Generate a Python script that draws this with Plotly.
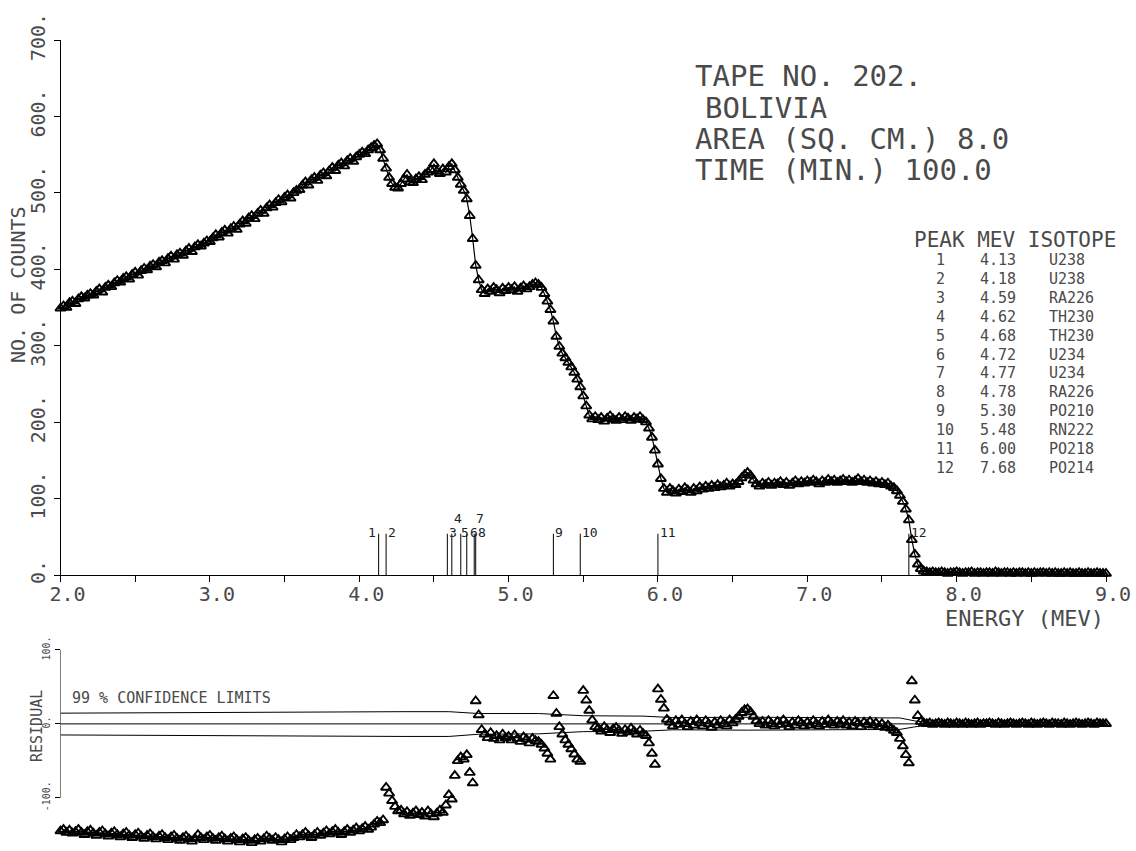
import plotly.graph_objects as go

# Alpha spectrum: counts per channel, channel calibration 2.00 MeV + 0.02 MeV/channel
E_START = 2.0
E_STEP = 0.02

COUNTS = [
    349, 352, 350, 356, 358, 355, 361, 364, 362, 366,
    368, 366, 371, 374, 370, 376, 379, 377, 382, 385,
    383, 388, 390, 387, 393, 396, 392, 398, 401, 399,
    404, 406, 403, 409, 411, 408, 414, 417, 413, 419,
    421, 418, 424, 427, 423, 429, 432, 430, 434, 437,
    436, 441, 445, 442, 448, 451, 447, 453, 456, 452,
    459, 463, 460, 467, 470, 466, 473, 477, 473, 480,
    484, 481, 487, 491, 488, 494, 497, 493, 500, 503,
    504, 510, 514, 510, 517, 520, 516, 523, 526, 522,
    529, 533, 529, 536, 539, 535, 542, 545, 541, 547,
    550, 553, 551, 556, 559, 562, 564, 556, 545, 532,
    520, 512, 507, 506, 512, 518, 524, 514, 513, 518,
    521, 517, 524, 527, 530, 538, 528, 525, 531, 527,
    534, 538, 530, 520, 511, 503, 492, 470, 440, 405,
    386, 373, 368, 374, 371, 376, 373, 369, 375, 372,
    376, 373, 377, 371, 375, 378, 374, 377, 380, 382,
    380, 376, 368, 358, 347, 332, 312, 299, 290, 284,
    278, 272, 265, 256, 246, 234, 221, 209, 204, 207,
    203, 206, 201, 205, 208, 204, 202, 206, 203, 207,
    205, 202, 206, 204, 207, 203, 200, 192, 180, 163,
    145, 126, 113, 108, 113, 110, 107, 112, 109, 114,
    111, 108, 113, 110, 115, 112, 116, 113, 117, 114,
    118, 115, 117, 120, 116, 119, 118, 122, 127, 131,
    134, 130, 124, 119, 116, 120, 118, 121, 117, 120,
    119, 122, 118, 121, 117, 120, 123, 119, 122, 120,
    123, 121, 124, 122, 119, 123, 121, 125, 122, 124,
    121, 123, 125, 122, 124, 121, 123, 126, 122, 124,
    121, 123, 120, 122, 119, 121, 118, 120, 116, 114,
    110, 104, 96, 86, 72, 46, 27, 14, 8, 5,
    4, 3, 4, 3, 3, 4, 3, 2, 3, 3,
    4, 3, 2, 3, 3, 4, 2, 3, 3, 2,
    3, 3, 2, 4, 3, 2, 3, 3, 2, 3,
    2, 3, 3, 2, 3, 2, 3, 2, 3, 3,
    2, 3, 2, 3, 2, 2, 3, 2, 3, 2,
    2, 3, 2, 2, 3, 2, 2, 3, 2, 2,
    2,
]

# Fit residuals for the same channels
RESIDUALS = [
    -145, -143, -147, -144, -148, -146, -143, -147, -150, -146,
    -144, -148, -151, -147, -145, -149, -152, -148, -146, -150,
    -153, -149, -147, -151, -154, -150, -148, -152, -155, -151,
    -149, -153, -156, -152, -150, -154, -157, -153, -151, -155,
    -158, -154, -152, -156, -159, -155, -150, -154, -157, -153,
    -151, -155, -158, -154, -152, -156, -159, -155, -153, -157,
    -160, -156, -154, -158, -161, -157, -155, -159, -156, -152,
    -155, -158, -154, -157, -160, -156, -153, -157, -154, -150,
    -153, -150, -147, -151, -154, -150, -147, -151, -148, -145,
    -149, -146, -143, -147, -150, -146, -143, -147, -144, -141,
    -145, -142, -139, -143, -140, -136, -132, -134, -130, -86,
    -94, -104, -112, -118, -117, -122, -119, -124, -121, -118,
    -123, -120, -125, -118, -122, -126, -121, -117, -120, -110,
    -96, -102, -70, -50, -45, -48, -42, -66, -80, 31,
    12, -8, -14, -19, -12, -20, -16, -22, -14, -19,
    -17, -22, -15, -20, -24, -18, -21, -26, -20, -23,
    -24, -28, -33, -40, -48, 38, 14, -4, -14, -22,
    -28, -34, -41, -48, -51, 45, 32, 18, 5, -4,
    -6, -10, -4, -8, -12, -7, -5, -9, -13, -8,
    -11, -6, -10, -14, -9, -13, -16, -26, -40, -55,
    47, 33, 21, 6, 2, -3, 4, -1, 5, 0,
    -4, 3, -2, 5, 1, -3, 4, 0, -5, 2,
    -2, 4, 0, -3, 5, 1, 6, 10, 15, 19,
    20, 16, 10, 4, 0, 3, -2, 4, 0, -3,
    3, -1, 5, 0, -4, 2, -2, 4, 1, -3,
    2, -2, 4, 0, -3, 3, -1, 5, 1, -2,
    3, 0, 4, -2, 2, -3, 3, 1, -4, 2,
    -1, 3, -2, 1, -4, 0, -5, -2, -6, -9,
    -12, -20, -30, -42, -53, 58, 32, 11, 3, 1,
    0, 1, -1, 0, 1, 0, -1, 1, 0, -1,
    1, 0, -1, 1, 0, -1, 0, 1, -1, 0,
    0, 1, 0, -1, 1, 0, -1, 0, 1, 0,
    -1, 0, 1, 0, -1, 1, 0, -1, 0, 1,
    0, -1, 1, 0, 0, -1, 1, 0, -1, 0,
    1, 0, -1, 0, 1, 0, -1, 1, 0, 0,
    0,
]

ENERGY = [round(E_START + E_STEP * i, 2) for i in range(len(COUNTS))]

# 99 % confidence limits on the residual
CL_ENERGY = [2.0, 2.5, 3.0, 3.5, 4.0, 4.15, 4.3, 4.6, 4.8, 5.2, 5.3, 5.5,
             5.9, 6.0, 6.1, 6.6, 7.0, 7.5, 7.62, 7.72, 7.8, 9.0]
CL_UPPER = [14.5, 15, 15.5, 16, 17, 17, 16.5, 16.5, 14, 14, 13, 11,
            10.5, 9, 8.5, 9, 8.5, 8.5, 8, 4, 2, 1.5]
CL_LOWER = [-15, -15.5, -16, -16.5, -17.5, -17.5, -17, -17, -14, -13.5, -12.5, -10.5,
            -10, -8.5, -8, -8.5, -8, -8, -7.5, -4, -2, -1.5]

# Identified peaks
PEAK_NO = [1, 2, 3, 4, 5, 6, 7, 8, 9, 10, 11, 12]
PEAK_MEV = [4.13, 4.18, 4.59, 4.62, 4.68, 4.72, 4.77, 4.78, 5.30, 5.48, 6.00, 7.68]
PEAK_ISOTOPE = ["U238", "U238", "RA226", "TH230", "TH230", "U234", "U234",
                "RA226", "PO210", "RN222", "PO218", "PO214"]

X_TICKS = [2.0, 3.0, 4.0, 5.0, 6.0, 7.0, 8.0, 9.0]
Y_TICKS = [0, 100, 200, 300, 400, 500, 600, 700]
R_TICKS = [-100, 0, 100]

HEADER = ["TAPE NO. 202.", "BOLIVIA", "AREA (SQ. CM.) 8.0", "TIME (MIN.) 100.0"]

# ---------------------------------------------------------------- layout helpers
W, H = 1136, 851
FONT = "DejaVu Sans Mono"
INK = "#4a4a4a"


def px(xp):
    return xp / W


def py(yp):
    return 1 - yp / H


MARK_TOP = 54          # height of the peak marker lines, in counts
LABEL_Y = 56           # peak label row
LABEL_Y_UPPER = 74     # raised row for crowded labels
UPPER_LABELS = {4, 7}
LEFT_LABELS = {1}
LABEL_NUDGE = {1: -1, 5: -2, 6: 1}   # pixel nudges for crowded labels

MARKER = dict(symbol="triangle-up-open", size=9, color="black", line=dict(width=1.9))

fig = go.Figure()

# spectrum
fig.add_trace(go.Scatter(
    x=ENERGY, y=COUNTS, mode="lines+markers",
    line=dict(color="black", width=1.2), marker=MARKER,
    cliponaxis=False, xaxis="x", yaxis="y", showlegend=False,
))

# peak position markers
mx, my = [], []
for e in PEAK_MEV:
    mx += [e, e, None]
    my += [0, MARK_TOP, None]
fig.add_trace(go.Scatter(x=mx, y=my, mode="lines", line=dict(color="black", width=1),
                         xaxis="x", yaxis="y", showlegend=False))

# residuals
fig.add_trace(go.Scatter(
    x=ENERGY, y=RESIDUALS, mode="markers", marker=MARKER,
    cliponaxis=False, xaxis="x2", yaxis="y2", showlegend=False,
))
for band in (CL_UPPER, CL_LOWER):
    fig.add_trace(go.Scatter(x=CL_ENERGY, y=band, mode="lines",
                             line=dict(color="black", width=1),
                             xaxis="x2", yaxis="y2", showlegend=False))

annotations = []

# peak labels
for n, e in zip(PEAK_NO, PEAK_MEV):
    annotations.append(dict(
        x=e, y=LABEL_Y_UPPER if n in UPPER_LABELS else LABEL_Y,
        xref="x", yref="y", text=str(n), showarrow=False,
        xanchor="right" if n in LEFT_LABELS else "left", yanchor="middle",
        xshift=LABEL_NUDGE.get(n, 0),
        font=dict(family=FONT, size=13, color="#222"),
    ))

# run header
header_pos = [(693, 76), (703, 108), (693, 139), (693, 170)]
for txt, (xp, yp) in zip(HEADER, header_pos):
    annotations.append(dict(x=px(xp), y=py(yp), xref="paper", yref="paper", text=txt,
                            showarrow=False, xanchor="left", yanchor="middle",
                            font=dict(family=FONT, size=29, color=INK)))

# peak table
annotations.append(dict(x=px(912), y=py(240), xref="paper", yref="paper",
                        text="PEAK MEV ISOTOPE", showarrow=False,
                        xanchor="left", yanchor="middle",
                        font=dict(family=FONT, size=21, color=INK)))
for i, (n, e, iso) in enumerate(zip(PEAK_NO, PEAK_MEV, PEAK_ISOTOPE)):
    row_y = py(260 + 18.9 * i)
    for xp, txt in ((934, str(n)), (978, f"{e:.2f}"), (1047, iso)):
        annotations.append(dict(x=px(xp), y=row_y, xref="paper", yref="paper", text=txt,
                                showarrow=False, xanchor="left", yanchor="middle",
                                font=dict(family=FONT, size=15, color=INK)))

# axis titles and residual caption
annotations += [
    dict(x=px(943), y=py(618), xref="paper", yref="paper", text="ENERGY (MEV)",
         showarrow=False, xanchor="left", yanchor="middle",
         font=dict(family=FONT, size=22, color=INK)),
    dict(x=px(18), y=py(285), xref="paper", yref="paper", text="NO. OF COUNTS",
         showarrow=False, textangle=-90, xanchor="center", yanchor="middle",
         font=dict(family=FONT, size=20, color=INK)),
    dict(x=px(37), y=py(726), xref="paper", yref="paper", text="RESIDUAL",
         showarrow=False, textangle=-90, xanchor="center", yanchor="middle",
         font=dict(family=FONT, size=15, color=INK)),
    dict(x=px(70), y=py(698), xref="paper", yref="paper", text="99 % CONFIDENCE LIMITS",
         showarrow=False, xanchor="left", yanchor="middle",
         font=dict(family=FONT, size=15, color=INK)),
]

x_domain = [px(60.5), px(1106)]

fig.update_layout(
    width=W, height=H,
    margin=dict(l=0, r=0, t=0, b=0, autoexpand=False),
    paper_bgcolor="white", plot_bgcolor="white",
    showlegend=False,
    annotations=annotations,
    xaxis=dict(
        domain=x_domain, range=[2.0, 9.0], anchor="y", automargin=False,
        showgrid=False, zeroline=False,
        showline=True, linecolor="black", linewidth=1,
        ticks="outside", ticklen=6, tickcolor="black",
        tickvals=X_TICKS, ticktext=[f"{v:.1f}" for v in X_TICKS],
        ticklabelshift=7, ticklabelstandoff=-5,
        tickfont=dict(family=FONT, size=20, color=INK),
        minor=dict(ticks="outside", ticklen=6, tickcolor="black", dtick=0.5, tick0=2.0),
    ),
    yaxis=dict(
        domain=[1 - 575 / H, 1 - 40 / H], range=[0, 700], anchor="x", automargin=False,
        showgrid=False, zeroline=False,
        showline=True, linecolor="black", linewidth=1,
        ticks="outside", ticklen=6, tickcolor="black",
        tickvals=Y_TICKS, ticktext=[f"{v}." for v in Y_TICKS], tickangle=-90,
        ticklabelstandoff=1,
        tickfont=dict(family=FONT, size=20, color=INK),
    ),
    xaxis2=dict(domain=x_domain, range=[2.0, 9.0], anchor="y2", visible=False,
                automargin=False),
    yaxis2=dict(
        domain=[0, 1 - 641.1 / H], range=[-172, 112], anchor="x2", automargin=False,
        showgrid=False, zeroline=False, showline=False,
        ticks="outside", ticklen=5, tickcolor="black",
        tickvals=R_TICKS, ticktext=[f"{v}." for v in R_TICKS], tickangle=-90,
        ticklabelstandoff=1,
        tickfont=dict(family=FONT, size=10, color=INK),
    ),
    shapes=[
        # residual axis spine and zero line
        dict(type="line", xref="x2", yref="y2", x0=2.0, x1=2.0, y0=-100, y1=100,
             line=dict(color="black", width=1)),
        dict(type="line", xref="x2", yref="y2", x0=1.96, x1=9.0, y0=0, y1=0,
             line=dict(color="black", width=1)),
    ],
)

fig.write_html("out.html")
